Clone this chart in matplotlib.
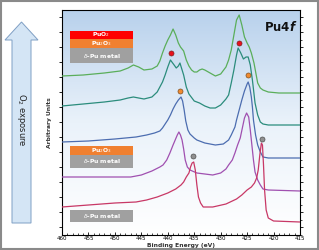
import numpy as np
import matplotlib
matplotlib.use('Agg')
from matplotlib import pyplot as plt
from matplotlib.patches import Rectangle, Polygon

# binding energy (eV) / intensity (arb.)
green_x = [460, 456, 452, 449, 447.5, 446.5, 445.5, 444.5, 443, 442, 441.5, 441, 440.5, 440, 439.5, 439,
           438.5, 438, 437.6, 437, 436.5, 436, 435.5, 435, 434.5, 434, 433.5, 433, 432, 431, 430,
           429, 428.5, 428, 427.5, 427, 426.5, 426, 425.5, 425, 424.6, 424.2, 423.7, 423,
           422.5, 422, 421, 419, 415]
green_y = [159, 160, 162, 164, 167, 170, 168, 165, 166, 169, 174, 182, 189, 195, 200, 206,
           200, 192, 188, 184, 175, 169, 165, 163, 163, 165, 166, 165, 162, 159, 161,
           168, 175, 185, 200, 215, 220, 210, 198, 192, 188, 182, 172, 152,
           147, 145, 143, 142, 142]

teal_x = [460, 456, 452, 449, 447.5, 446.5, 445.5, 444.5, 443, 442, 441.5, 441, 440.5, 440, 439.5,
          438.8, 438.4, 438, 437.7, 437, 436.5, 436, 435, 434, 433, 432, 431, 430, 429, 428.5,
          428, 427.5, 427, 426.7, 426.2, 425.7, 425.2, 424.8, 424.4, 424, 423.5, 423, 422.5,
          422, 421, 415]
teal_y = [129, 131, 133, 135, 137, 138, 137, 136, 138, 143, 148, 153, 160, 168, 175,
          170, 167, 169, 172, 160, 148, 141, 134, 132, 129, 127, 127, 130, 136, 140,
          152, 165, 180, 187, 182, 176, 178, 178, 170, 155, 132, 120, 113,
          111, 110, 110]

blue_x = [460, 455, 450, 446, 444, 442.5, 441.5, 441, 440.5, 440, 439.5, 439, 438.5, 438, 437.5,
          437.2, 436.9, 436.6, 436.2, 435.8, 435, 434.5, 433, 431, 429.5, 428.5, 428, 427.3,
          427, 426.5, 426, 425.5, 425, 424.8, 424.5, 424.2, 424, 423.8, 423.4, 423, 422.5,
          422, 421, 415]
blue_y = [93, 94, 96, 98, 100, 102, 104, 107, 111, 115, 120, 126, 131, 135, 138,
          134, 125, 114, 105, 101, 97, 95, 92, 90, 91, 95, 100, 108,
          115, 125, 135, 144, 151, 153, 148, 138, 128, 115, 100, 90, 83,
          78, 77, 77]

purple_x = [460, 455, 450, 447, 445, 443, 441.5, 440.9, 440.2, 439.6, 439, 438.6, 438.2, 437.9,
            437.6, 437.3, 437, 436.7, 436.3, 435.8, 434.5, 433, 431.5, 430, 429, 428.5, 427.8,
            427.3, 426.8, 426.3, 425.9, 425.5, 425.1, 424.7, 424.4, 424.1, 423.8, 423.5, 423,
            422.5, 422, 421, 415]
purple_y = [58, 58, 58, 58, 60, 64, 68, 70, 75, 82, 90, 95, 100, 103,
            100, 95, 86, 75, 68, 65, 62, 61, 60, 62, 66, 70, 75,
            82, 90, 97, 107, 117, 122, 118, 105, 90, 75, 63, 55,
            50, 46, 45, 44]

crimson_x = [460, 455, 450, 446, 444, 442, 440, 438.5, 437.5, 437, 436.5, 436, 435.7, 435.4, 435.1,
             434.8, 434.5, 434.2, 433.8, 433.3, 431.5, 429, 427, 426, 425, 424.2, 423.6, 423.2,
             422.9, 422.6, 422.3, 422.1, 421.9, 421.7, 421.4, 421, 420, 415]
crimson_y = [28, 30, 32, 33, 35, 38, 42, 46, 50, 53, 58, 62, 68, 72, 73,
             65, 50, 38, 32, 28, 28, 31, 36, 40, 45, 48, 52, 57,
             65, 80, 92, 90, 70, 45, 25, 17, 14, 13]

# peak markers
red_x = [439.3, 426.5]
red_y = [182, 192]
orange_x = [437.6, 424.8]
orange_y = [144, 160]
gray_x = [435.3, 422.2]
gray_y = [79, 96]

fig = plt.figure(figsize=(3.19, 2.5), dpi=100)
ax = fig.add_axes([62/319, 1-235/250, 238/319, 225/250])

# background gradient
grad = np.linspace(1, 0, 256).reshape(-1, 1)
cmap = matplotlib.colors.LinearSegmentedColormap.from_list('bg', ['#ffffff', '#eaf2fa', '#b8d1ec'])
ax.imshow(grad, extent=[0, 1, 0, 1], transform=ax.transAxes, aspect='auto', cmap=cmap, zorder=0)

lw = 0.9
ax.plot(green_x, green_y, color='#5aae5a', lw=lw, zorder=3)
ax.plot(teal_x, teal_y, color='#2b8c7c', lw=lw, zorder=3)
ax.plot(blue_x, blue_y, color='#4c6db0', lw=lw, zorder=3)
ax.plot(purple_x, purple_y, color='#a050b0', lw=lw, zorder=3)
ax.plot(crimson_x, crimson_y, color='#c83866', lw=lw, zorder=3)

mk = dict(ls='none', marker='o', ms=3.6, mew=0.5, zorder=4)
ax.plot(red_x, red_y, mfc='#e8101c', mec='#802020', **mk)
ax.plot(orange_x, orange_y, mfc='#f08a30', mec='#805020', **mk)
ax.plot(gray_x, gray_y, mfc='#909090', mec='#505050', **mk)

ax.set_xlim(460, 415)
ax.set_ylim(0, 225)
ax.set_xticks(np.arange(460, 414, -5))
ax.set_xticks(np.arange(460, 414, -1), minor=True)
ax.set_yticks(np.arange(8, 225, 15))
ax.set_yticks(np.arange(0.5, 225, 7.5), minor=True)
ax.tick_params(axis='x', labelsize=4, pad=1, direction='in', length=2.5, width=0.6)
ax.tick_params(axis='x', which='minor', direction='in', length=1.5, width=0.5)
ax.tick_params(axis='y', left=True, right=True, labelleft=False, direction='out', length=2, width=0.6)
ax.tick_params(axis='y', which='minor', left=False, right=True, direction='out', length=1.5, width=0.5)
for s in ax.spines.values():
    s.set_linewidth(0.8)
ax.set_xlabel('Binding Energy (eV)', fontsize=4.3, fontweight='bold', labelpad=1, color='#333333')
ax.set_ylabel('Arbitrary Units', fontsize=4.3, fontweight='bold', labelpad=2, color='#333333')

ax.text(0.988, 0.925, r'$\mathbf{Pu4}\mathbfit{f}$', transform=ax.transAxes, ha='right', va='center',
        fontsize=8.5, color='#111111', zorder=5)

# legend boxes
def box(y0, y1, color, label):
    ax.add_patch(Rectangle((0.034, y0), 0.264, y1 - y0, transform=ax.transAxes,
                           facecolor=color, edgecolor='none', zorder=5))
    ax.text(0.166, (y0 + y1) / 2, label, transform=ax.transAxes, ha='center', va='center',
            fontsize=4.3, color='white', fontweight='bold', zorder=6)

box(0.871, 0.907, '#ff0000', r'PuO$_2$')
box(0.831, 0.871, '#f08030', r'Pu$_2$O$_3$')
box(0.764, 0.831, '#a0a0a0', r'$\delta$-Pu metal')
box(0.356, 0.396, '#f08030', r'Pu$_2$O$_3$')
box(0.298, 0.356, '#a0a0a0', r'$\delta$-Pu metal')
box(0.058, 0.111, '#a0a0a0', r'$\delta$-Pu metal')

# O2 exposure arrow, figure pixels
def fp(x, y):
    return (x / 319, 1 - y / 250)

arrow = Polygon([fp(12, 223), fp(12, 40), fp(5, 40), fp(21.5, 22), fp(38, 40), fp(31, 40), fp(31, 223)],
                closed=True, transform=fig.transFigure, facecolor='#d4e5f5', edgecolor='#7f9fc4', lw=0.7)
fig.add_artist(arrow)
fig.text(21.5 / 319, 1 - 120 / 250, r'O$_2$ exposure', rotation=270, ha='center', va='center',
         fontsize=6, color='#222222')

# outer frame
fig.add_artist(Rectangle((0.003, 0.004), 0.994, 0.992, transform=fig.transFigure, facecolor='none',
                         edgecolor='#8a8a8a', lw=1.5))

fig.savefig('out.png', dpi=100)
